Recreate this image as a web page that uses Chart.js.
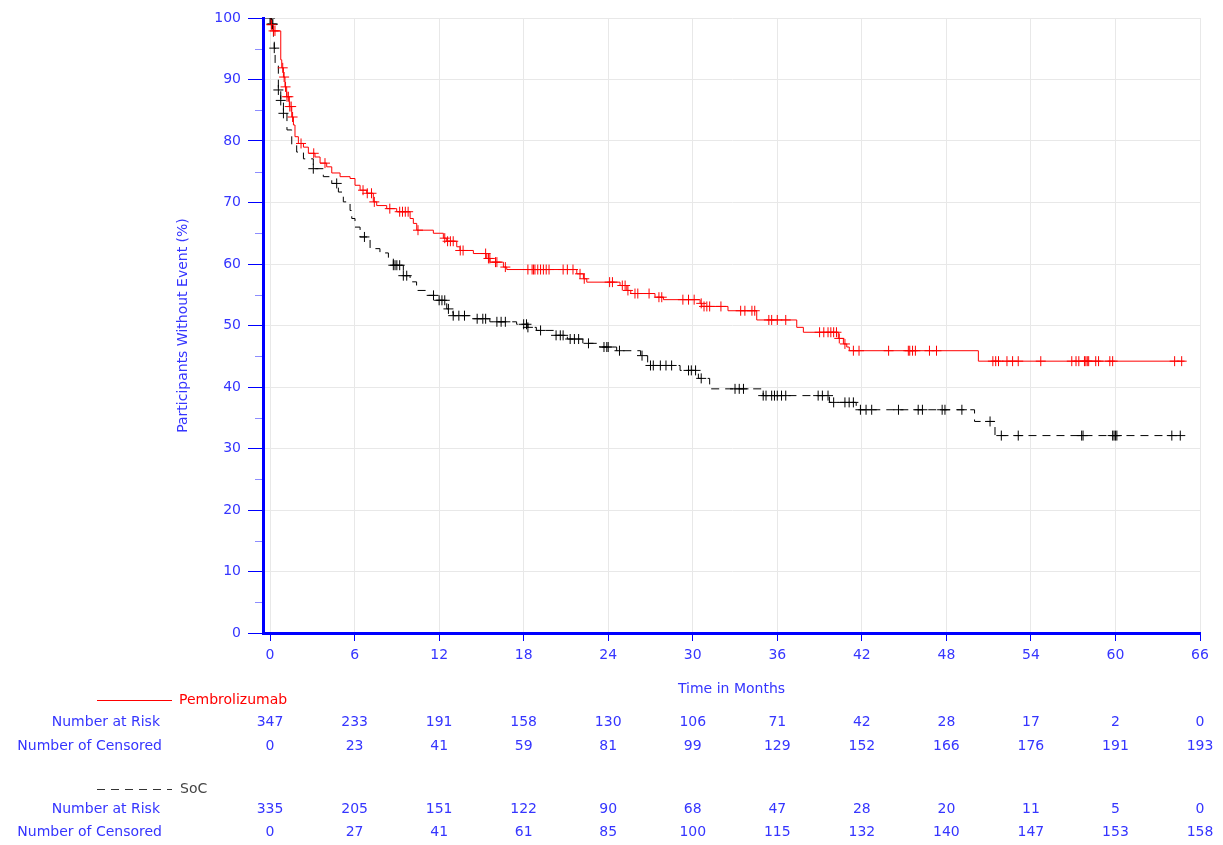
<!DOCTYPE html>
<html><head><meta charset="utf-8">
<script src="https://cdn.jsdelivr.net/npm/chart.js@4.4.1/dist/chart.umd.min.js"></script>
<style>html,body{margin:0;padding:0;background:#fff;}#wrap{width:1223px;height:845px;position:relative;}</style>
</head><body><div id="wrap"><canvas id="c" width="1223" height="845"></canvas></div>
<script>
// ---------- data ----------
const xTicks = [0,6,12,18,24,30,36,42,48,54,60,66];
const yTicks = [0,5,10,15,20,25,30,35,40,45,50,55,60,65,70,75,80,85,90,95,100];

const pemTime = [0,0.05,0.2,0.76,0.83,0.95,1.06,1.18,1.37,1.54,1.66,1.77,2.01,2.37,2.72,3.19,3.55,4.02,4.38,4.97,5.68,6.03,6.39,6.86,7.33,7.57,8.28,8.99,9.94,10.17,10.41,11.59,12.3,12.54,13.25,13.48,14.43,15.38,15.61,16.56,16.8,21.77,22.24,22.48,24.84,25.32,25.6,27.32,27.92,30.52,30.64,32.5,34.54,37.38,37.85,40.33,40.69,40.93,41.11,50.27,64.9];
const pemSurv = [100,98.9,97.9,93.2,91.9,90.4,88.8,87.2,85.6,83.9,82.6,80.7,79.6,79.0,78.0,77.4,76.4,75.8,74.8,74.2,73.9,72.8,72.0,71.5,70.1,69.5,69.0,68.5,67.4,66.6,65.5,65.0,64.2,63.7,62.8,62.2,61.7,60.9,60.3,59.5,59.1,58.4,57.6,57.05,56.5,55.7,55.2,54.6,54.2,53.6,53.1,52.4,50.9,49.7,48.9,47.9,47.0,46.5,45.9,44.2,44.2];

const socTime = [0,0.1,0.24,0.3,0.36,0.59,0.76,0.95,1.2,1.54,1.89,2.37,3.07,3.78,4.38,4.85,5.2,5.68,5.8,6.03,6.39,7.1,7.8,8.4,8.75,9.46,9.94,10.4,11.1,11.8,12.54,12.8,13.0,14.4,15.6,17.5,18.3,18.9,20.2,21.1,22.2,23.4,24.6,26.3,26.8,29.1,30.4,31.2,35.0,39.7,41.6,50.0,51.45,64.7];
const socSurv = [100,99,96.4,95.1,92.3,88.3,86.6,84.5,81.8,79.3,78.2,77.1,75.5,74.2,73.1,71.7,70.1,68.7,67.4,66.0,64.4,62.5,61.8,60.9,59.8,58.1,57.1,55.7,54.9,54.1,52.7,52.2,51.6,51.1,50.6,50.2,49.7,49.2,48.4,47.8,47.1,46.5,45.9,45.1,43.5,42.7,41.4,39.7,38.6,37.5,36.3,34.4,32.1,32.1];

const pemCensorTimes = [0.1,0.25,0.35,0.9,1.0,1.1,1.2,1.3,1.4,1.5,1.6,2.2,3.1,3.9,6.6,6.9,7.2,7.4,8.5,9.2,9.4,9.6,9.8,10.5,12.4,12.6,12.8,13.0,13.5,13.7,15.3,15.5,15.6,16.0,16.1,16.7,18.3,18.6,18.7,18.8,19.0,19.2,19.4,19.6,19.8,20.8,21.1,21.5,22.0,22.3,24.1,24.3,25.0,25.2,25.4,25.9,26.1,26.9,27.6,27.8,29.3,29.7,30.1,30.6,30.8,31.0,31.2,32.0,33.4,33.7,34.2,34.4,35.4,35.6,36.0,36.6,39.0,39.3,39.6,39.8,40.0,40.2,40.4,40.8,41.4,41.8,43.9,45.3,45.4,45.6,45.8,46.8,47.3,51.3,51.5,51.7,52.3,52.7,53.1,54.7,56.9,57.2,57.4,57.8,57.9,58.0,58.1,58.6,58.8,59.6,59.8,64.2,64.7];
const socCensorTimes = [0.0,0.1,0.15,0.2,0.3,0.59,0.76,0.95,3.07,4.73,6.7,8.75,8.87,9.0,9.2,9.46,9.7,11.6,12.0,12.2,12.4,12.66,13.0,13.4,13.8,14.7,15.1,15.3,16.1,16.4,16.7,18.0,18.2,18.3,19.2,20.3,20.6,20.8,21.3,21.6,21.9,22.6,23.7,23.9,24.0,24.8,26.4,27.0,27.2,27.7,28.1,28.5,29.7,29.9,30.2,30.6,33.0,33.3,33.6,35.0,35.2,35.6,35.8,36.0,36.3,36.6,38.9,39.2,39.6,40.0,40.8,41.1,41.4,41.9,42.3,42.7,44.6,46.0,46.3,47.7,47.9,49.1,51.1,51.9,53.1,57.6,57.7,59.8,59.9,60.0,60.1,64.0,64.6];

const pemAtRisk   = [347,233,191,158,130,106,71,42,28,17,2,0];
const pemCensored = [0,23,41,59,81,99,129,152,166,176,191,193];
const socAtRisk   = [335,205,151,122,90,68,47,28,20,11,5,0];
const socCensored = [0,27,41,61,85,100,115,132,140,147,153,158];

const pemLabel = 'Pembrolizumab';
const socLabel = 'SoC';
// ---------- helpers ----------
function survAt(times, surv, t){ let s = surv[0]; for (let i=0;i<times.length;i++){ if (times[i] <= t) s = surv[i]; else break; } return s; }
const FONT = "'DejaVu Sans', sans-serif";
const BLUE_TXT = '#3535ff';

const tablePlugin = {
  id: 'kmTable',
  afterDraw(chart){
    const ctx = chart.ctx, xs = chart.scales.x, ys = chart.scales.y;
    ctx.save();
    // minor y ticks
    ctx.strokeStyle = '#8c8cff'; ctx.lineWidth = 1;
    yTicks.forEach(v => { if (v % 10 !== 0){ const y = Math.round(ys.getPixelForValue(v)) + 0.5; ctx.beginPath(); ctx.moveTo(255, y); ctx.lineTo(262, y); ctx.stroke(); } });
    ctx.font = '14px ' + FONT; ctx.textBaseline = 'middle';
    // legend entries
    ctx.strokeStyle = '#ff0000'; ctx.beginPath(); ctx.moveTo(97, 700.5); ctx.lineTo(172, 700.5); ctx.stroke();
    ctx.fillStyle = '#ff0000'; ctx.textAlign = 'left'; ctx.fillText(pemLabel, 179, 700);
    ctx.strokeStyle = '#333333'; ctx.setLineDash([8,6]); ctx.beginPath(); ctx.moveTo(97, 789.5); ctx.lineTo(172, 789.5); ctx.stroke(); ctx.setLineDash([]);
    ctx.fillStyle = '#444444'; ctx.fillText(socLabel, 180, 789);
    // row labels
    ctx.fillStyle = BLUE_TXT; ctx.textAlign = 'right';
    ctx.fillText('Number at Risk', 160, 722);
    ctx.fillText('Number of Censored', 162, 746);
    ctx.fillText('Number at Risk', 160, 809);
    ctx.fillText('Number of Censored', 162, 832);
    ctx.textAlign = 'center';
    xTicks.forEach((t, i) => {
      const x = xs.getPixelForValue(t);
      ctx.fillText(String(pemAtRisk[i]), x, 722);
      ctx.fillText(String(pemCensored[i]), x, 746);
      ctx.fillText(String(socAtRisk[i]), x, 809);
      ctx.fillText(String(socCensored[i]), x, 832);
    });
    ctx.restore();
  }
};

new Chart(document.getElementById('c'), {
  type: 'line',
  data: {
    datasets: [
      { label: pemLabel + ' censored', data: pemCensorTimes.map(t => ({x:t, y: survAt(pemTime, pemSurv, t)})), showLine:false, pointStyle:'cross', pointRadius:5, pointBorderColor:'#ff0000', pointBorderWidth:1, borderColor:'#ff0000', order:1 },
      { label: socLabel + ' censored', data: socCensorTimes.map(t => ({x:t, y: survAt(socTime, socSurv, t)})), showLine:false, pointStyle:'cross', pointRadius:5, pointBorderColor:'#000000', pointBorderWidth:1, borderColor:'#000000', order:1 },
      { label: pemLabel, data: pemTime.map((t,i) => ({x:t, y:pemSurv[i]})), stepped:true, borderColor:'#ff0000', borderWidth:1, pointRadius:0, fill:false, order:2 },
      { label: socLabel, data: socTime.map((t,i) => ({x:t, y:socSurv[i]})), stepped:true, borderColor:'#000000', borderWidth:1, borderDash:[8,6], pointRadius:0, fill:false, order:3 }
    ]
  },
  options: {
    responsive:false, animation:false, devicePixelRatio:1,
    layout:{ padding:{ left:0, top:18, right:23, bottom:0 } },
    plugins:{ legend:{display:false}, tooltip:{enabled:false} },
    scales:{
      x:{
        type:'linear', min:-0.5, max:66,
        afterBuildTicks: s => { s.ticks = xTicks.map(v => ({value:v})); },
        afterFit: s => { s.height = 845 - 633; },
        grid:{ color:'#e8e8e8', lineWidth:1, tickColor:'#0000ff', tickLength:8, drawTicks:true },
        border:{ color:'#0000ff', width:3 },
        ticks:{ color:BLUE_TXT, font:{family:FONT, size:14}, padding:6, maxRotation:0, autoSkip:false, callback: v => String(v) },
        title:{ display:true, text:'Time in Months', color:BLUE_TXT, font:{family:FONT, size:14}, padding:{top:0, bottom:147.6} }
      },
      y:{
        type:'linear', min:0, max:100,
        afterBuildTicks: s => { s.ticks = yTicks.map(v => ({value:v})); },
        afterFit: s => { s.width = 263; },
        grid:{ color: c => (c.tick && c.tick.value % 10 === 0) ? '#e8e8e8' : 'rgba(0,0,0,0)', tickColor: c => (c.tick && c.tick.value % 10 === 0) ? '#0000ff' : 'rgba(0,0,0,0)', tickLength:15, lineWidth:1 },
        border:{ color:'#0000ff', width:3 },
        ticks:{ color:BLUE_TXT, font:{family:FONT, size:14}, padding:7, autoSkip:false, callback: v => (v % 10 === 0 ? String(v) : '') },
        title:{ display:true, text:'Participants Without Event (%)', color:BLUE_TXT, font:{family:FONT, size:14}, padding:{top:174.6, bottom:0} }
      }
    }
  },
  plugins:[tablePlugin]
});
</script></body></html>
